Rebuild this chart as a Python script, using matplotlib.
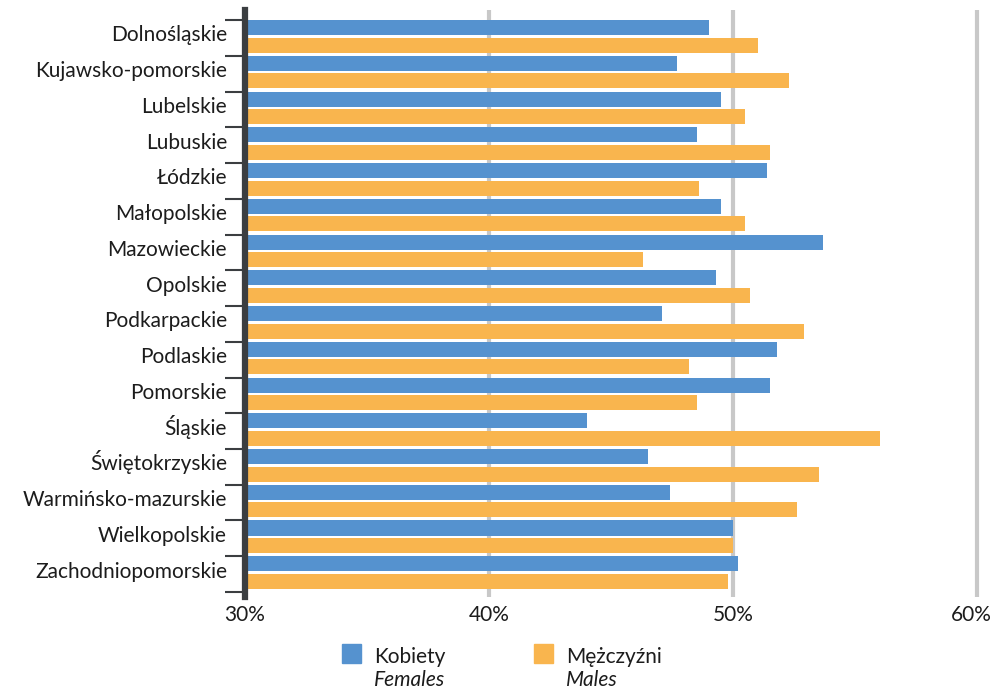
import matplotlib.pyplot as plt
from matplotlib.patches import Rectangle
from matplotlib.transforms import ScaledTranslation
import numpy as np

plt.rcParams['font.family'] = ['Lato', 'DejaVu Sans']

# dane
regiony = ["Dolnośląskie", "Kujawsko-pomorskie", "Lubelskie", "Lubuskie", "Łódzkie",
           "Małopolskie", "Mazowieckie", "Opolskie", "Podkarpackie", "Podlaskie",
           "Pomorskie", "Śląskie", "Świętokrzyskie", "Warmińsko-mazurskie",
           "Wielkopolskie", "Zachodniopomorskie"]
kobiety = [49.0, 47.7, 49.5, 48.5, 51.4, 49.5, 53.7, 49.3, 47.1, 51.8,
           51.5, 44.0, 46.5, 47.4, 50.0, 50.2]
mezczyzni = [51.0, 52.3, 50.5, 51.5, 48.6, 50.5, 46.3, 50.7, 52.9, 48.2,
             48.5, 56.0, 53.5, 52.6, 50.0, 49.8]
xticks = [30, 40, 50, 60]

niebieski = "#5592cf"
pomaranczowy = "#f9b54e"
ciemny = "#3b3e41"
tekst = "#1c1c1c"

fig = plt.figure(figsize=(9.94, 6.9), dpi=100)
ax = fig.add_axes([245/994, 1-597/690, (987-245)/994, (597-10)/690])

y = np.arange(len(regiony))
ax.barh(y - 0.29, [k - 30 for k in kobiety], left=30, height=0.42, color=niebieski)
ax.barh(y + 0.205, [m - 30 for m in mezczyzni], left=30, height=0.42, color=pomaranczowy)

ax.set_xlim(30, 60.4)
ax.set_ylim(15.64, -0.78)

ax.set_xticks(xticks)
ax.set_xticklabels([f"{t}%" for t in xticks], fontsize=15, color=tekst)
ax.tick_params(axis="x", length=0, pad=6)
# ostatnia etykieta przesunieta, zeby sie miescila
ostatnia = ax.get_xticklabels()[-1]
ostatnia.set_transform(ostatnia.get_transform() + ScaledTranslation(-6/100, 0, fig.dpi_scale_trans))

# etykiety na linii bazowej troche ponizej srodka kategorii
ax.set_yticks(y + 0.1)
ax.set_yticklabels(regiony, fontsize=15, color=tekst, va="baseline")
ax.set_yticks(np.arange(len(regiony) + 1) - 0.5, minor=True)
ax.tick_params(axis="y", which="major", length=0, pad=13)
ax.tick_params(axis="y", which="minor", length=14.5, width=1.5, color=ciemny)

ax.grid(axis="x", color="#c8c8c8", linewidth=3)
ax.set_axisbelow(True)

for s in ["top", "right", "bottom"]:
    ax.spines[s].set_visible(False)
ax.spines["left"].set_linewidth(4.5)
ax.spines["left"].set_color(ciemny)
ax.spines["left"].set_zorder(5)

# legenda
for x0, kolor, pl, en in [(342, niebieski, "Kobiety", "Females"),
                          (534, pomaranczowy, "Mężczyźni", "Males")]:
    fig.patches.append(Rectangle((x0/994, 1-663/690), 19/994, 19/690,
                                 transform=fig.transFigure, color=kolor))
    fig.text((x0+32)/994, 1-663/690, pl, fontsize=15, color=tekst, va="baseline")
    fig.text((x0+32)/994, 1-686/690, en, fontsize=15, color=tekst, va="baseline",
             style="italic")

fig.savefig("out.png", dpi=100)
